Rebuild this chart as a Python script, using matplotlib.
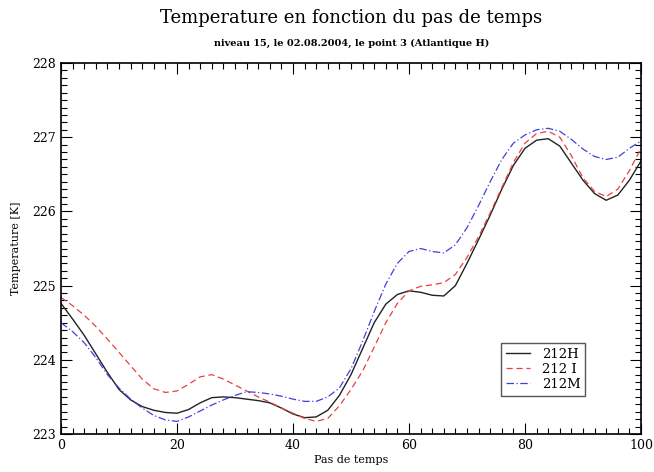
import matplotlib
matplotlib.use("Agg")
import matplotlib.pyplot as plt
from matplotlib.ticker import MultipleLocator

# Time steps and temperature series (K)
steps = list(range(0, 101, 2))

temp_212H = [224.76, 224.55, 224.33, 224.08, 223.83, 223.60, 223.46, 223.37, 223.32, 223.29,
             223.28, 223.33, 223.42, 223.49, 223.50, 223.49, 223.47, 223.45, 223.42, 223.35,
             223.27, 223.22, 223.23, 223.32, 223.52, 223.80, 224.15, 224.50, 224.75, 224.88,
             224.93, 224.91, 224.87, 224.86, 225.00, 225.30, 225.62, 225.95, 226.30, 226.62,
             226.85, 226.96, 226.98, 226.88, 226.65, 226.42, 226.24, 226.15, 226.22, 226.42,
             226.68]

temp_212I = [224.84, 224.73, 224.60, 224.45, 224.28, 224.10, 223.92, 223.74, 223.61, 223.56,
             223.58, 223.67, 223.77, 223.80, 223.74, 223.66, 223.58, 223.50, 223.43, 223.35,
             223.28, 223.21, 223.17, 223.21, 223.38, 223.60, 223.85, 224.17, 224.50, 224.76,
             224.93, 224.99, 225.01, 225.04, 225.15, 225.38, 225.66, 225.98, 226.32, 226.66,
             226.92, 227.05, 227.08, 227.00, 226.75, 226.45, 226.27, 226.20, 226.30, 226.55,
             226.85]

temp_212M = [224.50, 224.38, 224.23, 224.03, 223.80, 223.62, 223.47, 223.35, 223.25, 223.19,
             223.17, 223.23, 223.31, 223.39, 223.46, 223.52, 223.57, 223.56, 223.54, 223.51,
             223.47, 223.44, 223.44, 223.50, 223.62, 223.88, 224.25, 224.65, 225.02, 225.30,
             225.46, 225.50, 225.46, 225.44, 225.55, 225.78, 226.08, 226.40, 226.70, 226.92,
             227.03, 227.10, 227.12, 227.08, 226.97, 226.84, 226.74, 226.70, 226.73, 226.85,
             226.95]

labels = ["212H", "212 I", "212M"]

plt.rcParams["font.family"] = ["DejaVu Serif"]

fig = plt.figure(figsize=(6.54, 4.72), dpi=100)
ax = fig.add_axes([61 / 654, 1 - 434 / 472, 580 / 654, 371 / 472])

ax.plot(steps, temp_212H, color="#222222", lw=1.0, ls="-", label=labels[0])
ax.plot(steps, temp_212I, color="#e84040", lw=0.9, ls=(0, (5, 3)), label=labels[1])
ax.plot(steps, temp_212M, color="#4040e0", lw=0.9, ls=(0, (6, 2, 1, 2)), label=labels[2])

ax.set_xlim(0, 100)
ax.set_ylim(223, 228)
ax.xaxis.set_major_locator(MultipleLocator(20))
ax.xaxis.set_minor_locator(MultipleLocator(2))
ax.yaxis.set_major_locator(MultipleLocator(1))
ax.yaxis.set_minor_locator(MultipleLocator(0.1))
ax.tick_params(which="both", direction="in", top=True, right=True, labelsize=9, width=0.8)
ax.tick_params(which="major", length=8)
ax.tick_params(which="minor", length=4)
for s in ax.spines.values():
    s.set_linewidth(1.2)

ax.set_xlabel("Pas de temps", fontsize=8, labelpad=2)
ax.set_ylabel("Temperature [K]", fontsize=8, labelpad=8)

fig.text(0.537, 0.962, "Temperature en fonction du pas de temps", ha="center", va="center",
         fontsize=13)
fig.text(0.537, 0.908, "niveau 15, le 02.08.2004, le point 3 (Atlantique H)", ha="center",
         va="center", fontsize=7, fontweight="bold")

leg = ax.legend(loc="upper left", bbox_to_anchor=(0.748, 0.262), fontsize=9.5, fancybox=False,
                edgecolor="#555555", framealpha=1, handlelength=1.8, handletextpad=0.9,
                borderpad=0.35, labelspacing=0.15)
leg.get_frame().set_linewidth(1.0)

fig.savefig("out.png", dpi=100)
